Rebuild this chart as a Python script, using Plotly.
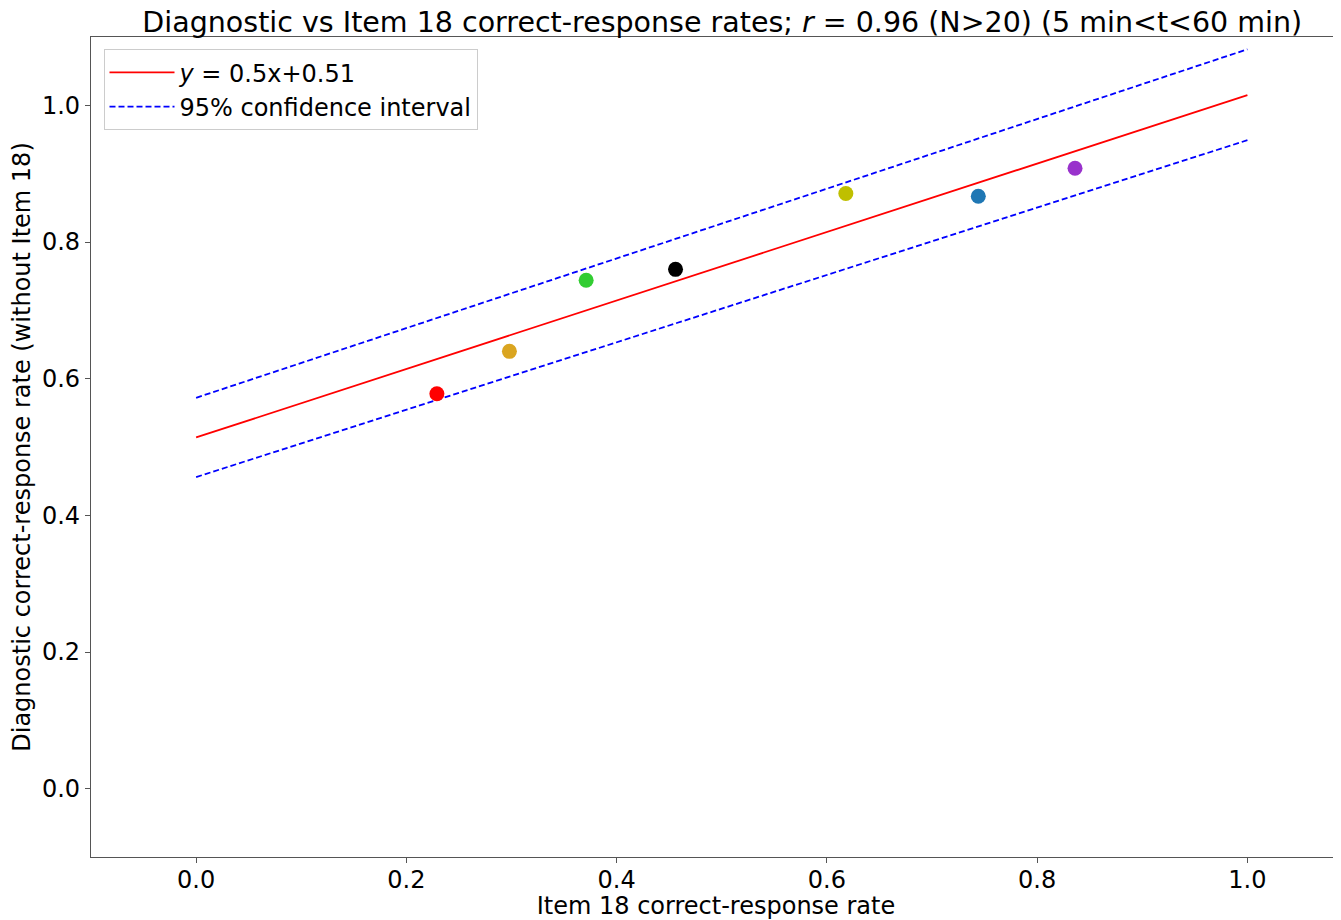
import plotly.graph_objects as go

# Data points (Item 18 rate, Diagnostic rate)
item18_rate = [0.229, 0.298, 0.371, 0.456, 0.618, 0.744, 0.836]
diag_rate = [0.578, 0.640, 0.744, 0.760, 0.871, 0.867, 0.908]
point_colors = ["#ff0000", "#daa520", "#32cd32", "#000000", "#bfbf00", "#1f77b4", "#9932cc"]

# Fit line and confidence interval endpoints
line_x = [0.0, 1.0]
fit_y = [0.514, 1.015]
ci_upper = [0.572, 1.082]
ci_lower = [0.456, 0.949]

xticks = [0.0, 0.2, 0.4, 0.6, 0.8, 1.0]
yticks = [0.0, 0.2, 0.4, 0.6, 0.8, 1.0]

fig = go.Figure()
fig.add_trace(go.Scatter(x=line_x, y=fit_y, mode="lines",
                         line=dict(color="#ff0000", width=1.8),
                         name="<i>y</i> = 0.5x+0.51"))
fig.add_trace(go.Scatter(x=line_x, y=ci_upper, mode="lines",
                         line=dict(color="#0000ff", width=1.8, dash="6px,3px"),
                         name="95% confidence interval"))
fig.add_trace(go.Scatter(x=line_x, y=ci_lower, mode="lines",
                         line=dict(color="#0000ff", width=1.8, dash="6px,3px"),
                         showlegend=False))
fig.add_trace(go.Scatter(x=item18_rate, y=diag_rate, mode="markers",
                         marker=dict(color=point_colors, size=15, line=dict(width=0)),
                         showlegend=False))

font_family = "DejaVu Sans"
fig.update_layout(
    width=1333, height=912,
    margin=dict(l=83, r=0, t=29, b=63),
    paper_bgcolor="white", plot_bgcolor="white",
    font=dict(family=font_family, size=24, color="black"),
    title=dict(text="Diagnostic vs Item 18 correct-response rates; <i>r</i> = 0.96 (N>20) (5 min<t<60 min)",
               x=0.505, xref="paper", xanchor="center",
               y=1, yref="container", yanchor="top", pad=dict(t=4),
               font=dict(size=28.5, family=font_family)),
    showlegend=True,
    legend=dict(x=0.01, y=0.985, xanchor="left", yanchor="top",
                bgcolor="rgba(255,255,255,0.8)", bordercolor="#cccccc", borderwidth=1,
                font=dict(size=24), tracegroupgap=0, itemwidth=65),
)
fig.update_xaxes(range=[-0.1, 1.089], tickvals=xticks, ticktext=[f"{v:.1f}" for v in xticks],
                 showgrid=False, zeroline=False, showline=True, linecolor="#555555", linewidth=1.2,
                 mirror=True, ticks="outside", ticklen=5, tickcolor="#555555",
                 tickfont=dict(size=24), ticklabelstandoff=-4,
                 title=dict(text="Item 18 correct-response rate", font=dict(size=24), standoff=0))
fig.update_yaxes(range=[-0.1, 1.1], tickvals=yticks, ticktext=[f"{v:.1f}" for v in yticks],
                 showgrid=False, zeroline=False, showline=True, linecolor="#555555", linewidth=1.2,
                 ticks="outside", ticklen=5, tickcolor="#555555",
                 tickfont=dict(size=24),
                 title=dict(text="Diagnostic correct-response rate (without Item 18)", font=dict(size=24), standoff=8))

fig.write_html("out.html")
